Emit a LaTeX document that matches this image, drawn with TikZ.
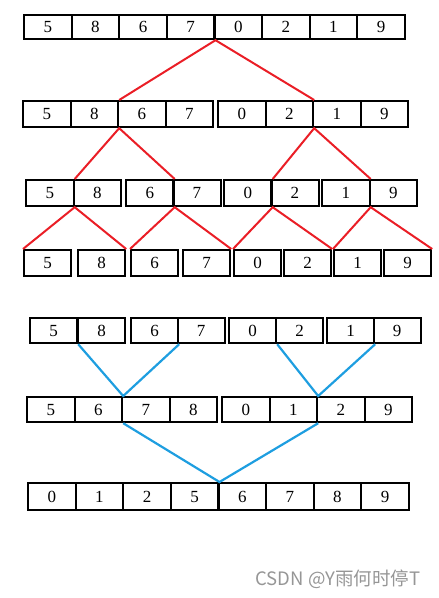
\documentclass[tikz,border=0pt]{standalone}
\usepackage{fontspec}
\setmainfont{Liberation Serif}
\newfontfamily\cjkfont{Noto Sans CJK SC}
\definecolor{splitred}{RGB}{234,30,38}
\definecolor{mergeblue}{RGB}{30,158,224}
\definecolor{markgray}{RGB}{150,150,150}

\begin{document}
\begin{tikzpicture}[x=1pt,y=-1pt,
    cell/.style={draw,line width=2.2pt,anchor=north west,inner sep=0pt,minimum width=47.5pt,minimum height=25pt,font=\fontsize{17}{18}\selectfont},
    split/.style={splitred,line width=2pt},
    merge/.style={mergeblue,line width=2.2pt}]
    \useasboundingbox (0,0) rectangle (439,598);
    \foreach \v [count=\i] in {5,8,6,7,0,2,1,9}
        \node[cell,minimum height=24pt] (a\i) at ({23+(\i-1)*47.6},14) {\v};
    \foreach \v/\x [count=\i] in {5/22,8/69.5,6/117,7/164.5,0/217,2/264.5,1/312,9/359.5}
        \node[cell,minimum height=26pt] (b\i) at (\x,100) {\v};
    \foreach \v/\x [count=\i] in {5/25,8/72.5,6/125,7/172,0/223,2/270,1/321,9/368.5}
        \node[cell,minimum height=26pt] (c\i) at (\x,179) {\v};
    \foreach \v/\x [count=\i] in {5/23,8/77,6/130,7/182,0/233,2/283,1/333,9/383}
        \node[cell,minimum width=47pt,minimum height=26pt] (d\i) at (\x,249) {\v};
    \foreach \v/\x [count=\i] in {5/29,8/77,6/130,7/176.5,0/228,2/275,1/326,9/372.5}
        \node[cell,minimum width=47pt] (e\i) at (\x,317) {\v};
    \foreach \v/\x [count=\i] in {5/26,6/73.5,7/121,8/168.5,0/221,1/268.5,2/316,9/363.5}
        \node[cell] (f\i) at (\x,396) {\v};
    \foreach \v [count=\i] in {0,1,2,5,6,7,8,9}
        \node[cell,minimum height=27pt] (g\i) at ({27+(\i-1)*47.6},482) {\v};

    \draw[split] (b2.north east) -- (a4.south east) -- (b6.north east);
    \draw[split] (c1.north east) -- (b2.south east) -- (c3.north east);
    \draw[split] (c5.north east) -- (b6.south east) -- (c7.north east);
    \draw[split] (d1.north west) -- (c1.south east) -- (d2.north east);
    \draw[split] (d3.north west) -- (c3.south east) -- (d4.north east);
    \draw[split] (d5.north west) -- (c5.south east) -- (d6.north east);
    \draw[split] (d7.north west) -- (c7.south east) -- (d8.north east);

    \draw[merge] (e1.south east) -- (f2.north east) -- (e3.south east);
    \draw[merge] (e5.south east) -- (f6.north east) -- (e7.south east);
    \draw[merge] (f2.south east) -- (g4.north east) -- (f6.south east);

    \node[text=markgray,font=\cjkfont\fontsize{18.5}{20}\selectfont,anchor=base west] (mark) at (252,585) {CSDN @Y雨何时停T};
\end{tikzpicture}
\end{document}
